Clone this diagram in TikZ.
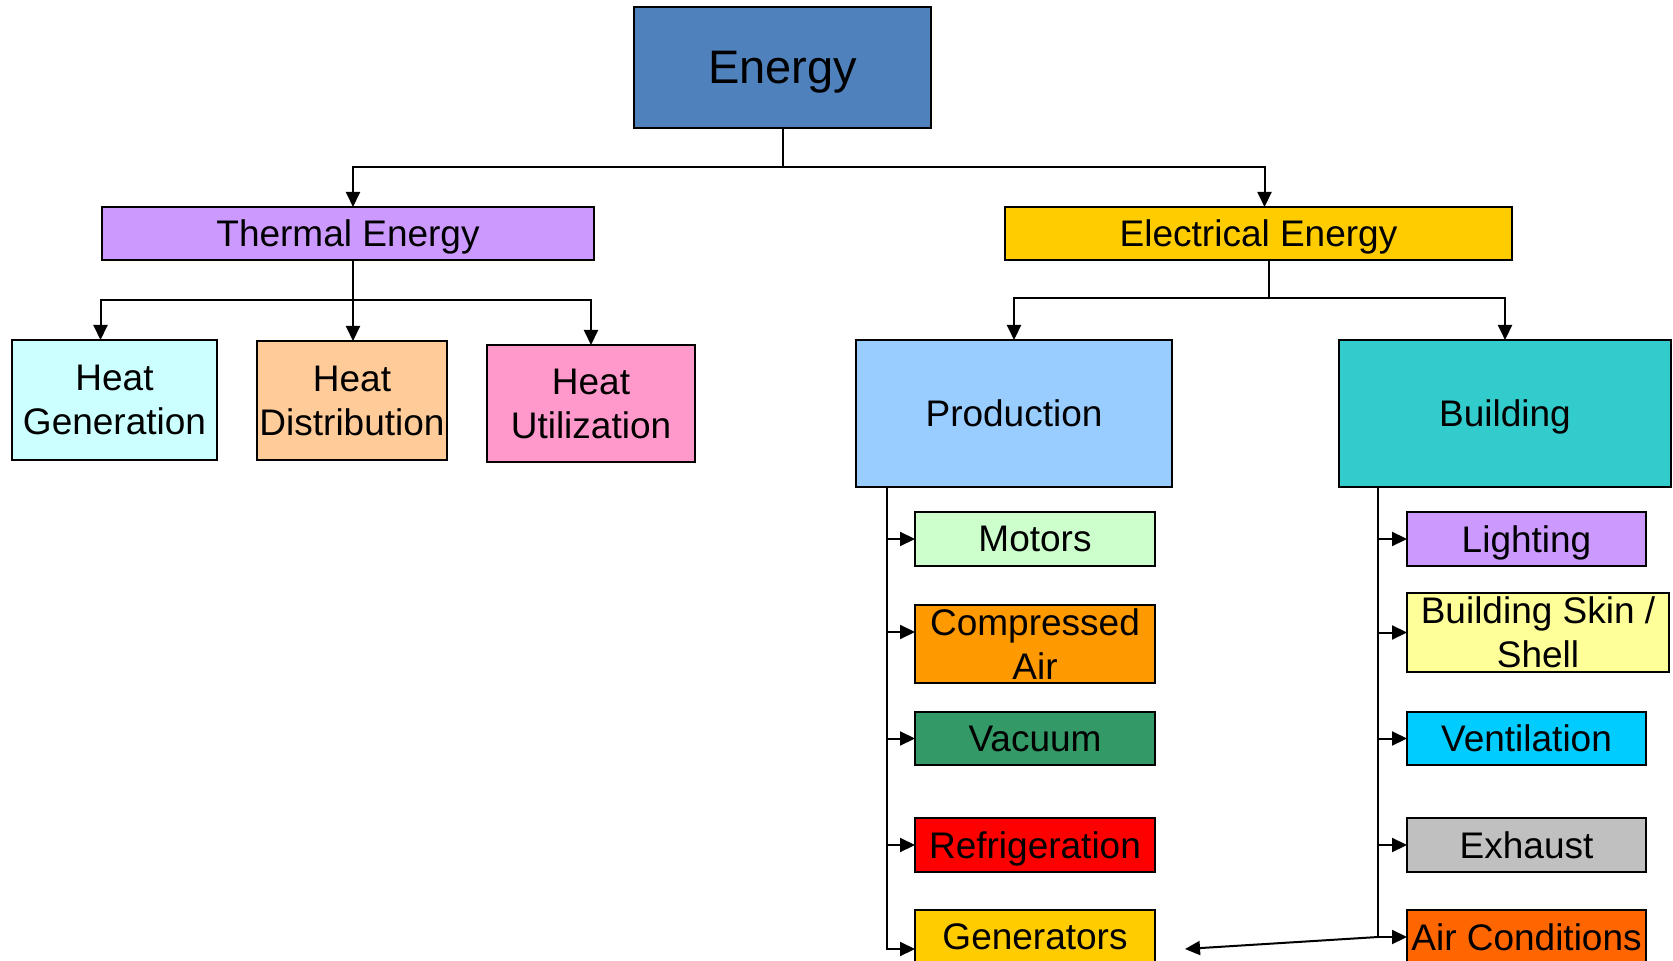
\documentclass[tikz,border=0pt]{standalone}
\usepackage{fontspec}
\setmainfont{Liberation Sans}
\usetikzlibrary{arrows.meta}
\definecolor{energyblue}{HTML}{4F81BD}
\definecolor{lilac}{HTML}{CC99FF}
\definecolor{gold}{HTML}{FFCC00}
\definecolor{paleaqua}{HTML}{CCFFFF}
\definecolor{peach}{HTML}{FFCC99}
\definecolor{pink}{HTML}{FF99CC}
\definecolor{skyblue}{HTML}{99CCFF}
\definecolor{teal}{HTML}{33CCCC}
\definecolor{palegreen}{HTML}{CCFFCC}
\definecolor{amber}{HTML}{FF9900}
\definecolor{seagreen}{HTML}{339966}
\definecolor{brightred}{HTML}{FF0000}
\definecolor{paleyellow}{HTML}{FFFF99}
\definecolor{cyanblue}{HTML}{00CCFF}
\definecolor{silver}{HTML}{C0C0C0}
\definecolor{deeporange}{HTML}{FF6600}
\tikzset{
  catbox/.style={draw, line width=1pt, inner sep=0pt, outer sep=0pt, align=center,
    text depth=0pt, font=\fontsize{18.5}{22}\selectfont},
  link/.style={line width=1pt}
}
\begin{document}
\begin{tikzpicture}[x=0.5pt, y=-0.5pt, >={Triangle[length=7.5pt,width=7pt]}]
    \useasboundingbox (0,0) rectangle (1673,961);
    % Top level
    \node[catbox, fill=energyblue, minimum width=148.5pt, minimum height=60.5pt,
          font=\fontsize{23.5}{28}\selectfont] (energy) at (782.5,67.5) {Energy};
    \node[catbox, fill=lilac, minimum width=246pt, minimum height=26.5pt] (thermal) at (348,233.5) {Thermal Energy};
    \node[catbox, fill=gold, minimum width=253.5pt, minimum height=26.5pt] (electrical) at (1258.5,233.5) {Electrical Energy};
    % Thermal branch
    \node[catbox, fill=paleaqua, minimum width=102.5pt, minimum height=60pt] (heatgen) at (114.5,400) {Heat\\Generation};
    \node[catbox, fill=peach, minimum width=95pt, minimum height=59.5pt] (heatdist) at (352,400.5) {Heat\\Distribution};
    \node[catbox, fill=pink, minimum width=104pt, minimum height=58.5pt] (heatutil) at (591,403.5) {Heat\\Utilization};
    % Electrical branch
    \node[catbox, fill=skyblue, minimum width=158pt, minimum height=73.5pt] (production) at (1014,413.5) {Production};
    \node[catbox, fill=teal, minimum width=166pt, minimum height=73.5pt] (building) at (1505,413.5) {Building};
    % Production items
    \node[catbox, fill=palegreen, minimum width=120pt, minimum height=27pt] (motors) at (1035,539) {Motors};
    \node[catbox, fill=amber, minimum width=120pt, minimum height=39pt] (compressed) at (1035,644) {Compressed\\Air};
    \node[catbox, fill=seagreen, minimum width=120pt, minimum height=26.5pt] (vacuum) at (1035,738.5) {Vacuum};
    \node[catbox, fill=brightred, minimum width=120pt, minimum height=27pt] (refrigeration) at (1035,845) {Refrigeration};
    \node[catbox, fill=gold, minimum width=120pt, minimum height=27pt] (generators) at (1035,937) {Generators};
    % Building items
    \node[catbox, fill=lilac, minimum width=119.5pt, minimum height=27pt] (lighting) at (1526.5,539) {Lighting};
    \node[catbox, fill=paleyellow, minimum width=131pt, minimum height=39.5pt] (skin) at (1538,632.5) {Building Skin /\\Shell};
    \node[catbox, fill=cyanblue, minimum width=119.5pt, minimum height=26.5pt] (ventilation) at (1526.5,738.5) {Ventilation};
    \node[catbox, fill=silver, minimum width=119.5pt, minimum height=27pt] (exhaust) at (1526.5,845) {Exhaust};
    \node[catbox, fill=deeporange, minimum width=119.5pt, minimum height=27pt] (aircond) at (1526.5,937) {Air Conditions};
    % Connectors from Energy
    \draw[link] (energy.south) -- ++(0,39) coordinate (topbus);
    \draw[link, ->] (topbus) -| ([xshift=2.5pt]thermal.north);
    \draw[link, ->] (topbus) -| ([xshift=3pt]electrical.north);
    % Connectors from Thermal Energy
    \draw[link] ([xshift=2.5pt]thermal.south) -- ++(0,40) coordinate (thermalbus);
    \draw[link, ->] (thermalbus) -| ([xshift=-7pt]heatgen.north);
    \draw[link, ->] (thermalbus) -- (thermalbus |- heatdist.north);
    \draw[link, ->] (thermalbus) -| (heatutil.north);
    % Connectors from Electrical Energy
    \draw[link] ([xshift=5pt]electrical.south) -- ++(0,38) coordinate (elecbus);
    \draw[link, ->] (elecbus) -| (production.north);
    \draw[link, ->] (elecbus) -| (building.north);
    % Production trunk
    \coordinate (prodtrunk) at ([xshift=15.5pt]production.south west);
    \draw[link, ->] (prodtrunk) |- ([yshift=-6pt]generators.west);
    \draw[link, ->] (prodtrunk |- motors.west) -- (motors.west);
    \draw[link, ->] (prodtrunk |- compressed.west) ++(0,-12) -- ([yshift=6pt]compressed.west);
    \draw[link, ->] (prodtrunk |- vacuum.west) -- (vacuum.west);
    \draw[link, ->] (prodtrunk |- refrigeration.west) -- (refrigeration.west);
    % Building trunk
    \coordinate (buildtrunk) at ([xshift=19.5pt]building.south west);
    \draw[link, ->] (buildtrunk) |- (aircond.west);
    \draw[link, ->] (buildtrunk |- lighting.west) -- (lighting.west);
    \draw[link, ->] (buildtrunk |- skin.west) -- (skin.west);
    \draw[link, ->] (buildtrunk |- ventilation.west) -- (ventilation.west);
    \draw[link, ->] (buildtrunk |- exhaust.west) -- (exhaust.west);
    \draw[link, ->] (buildtrunk |- aircond.west) -- ([xshift=15pt,yshift=-6pt]generators.east);
\end{tikzpicture}
\end{document}
